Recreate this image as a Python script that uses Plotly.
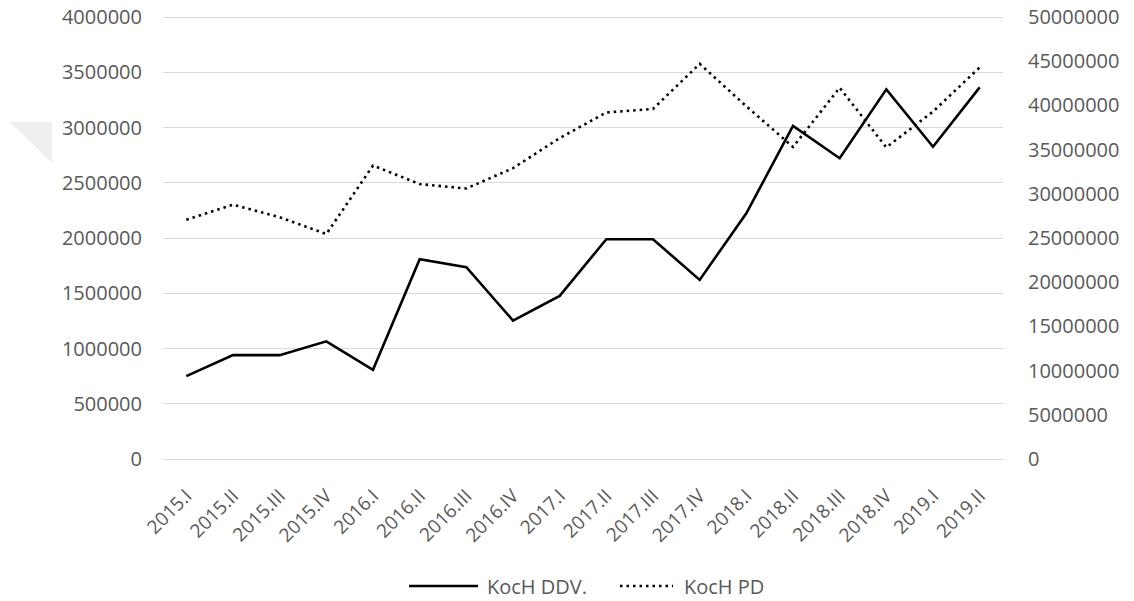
import plotly.graph_objects as go

categories = ["2015.I", "2015.II", "2015.III", "2015.IV",
              "2016.I", "2016.II", "2016.III", "2016.IV",
              "2017.I", "2017.II", "2017.III", "2017.IV",
              "2018.I", "2018.II", "2018.III", "2018.IV",
              "2019.I", "2019.II"]

koch_ddv = [750000, 940000, 940000, 1065000,
            807000, 1808000, 1736000, 1253000,
            1476000, 1989000, 1989000, 1621000,
            2224000, 3014000, 2722000, 3345000,
            2826000, 3363000]

koch_pd = [27070000, 28770000, 27350000, 25450000,
           33200000, 31100000, 30600000, 32900000,
           36300000, 39200000, 39600000, 44700000,
           39900000, 35300000, 42000000, 35250000,
           39300000, 44300000]

series_names = ["KocH DDV.", "KocH PD"]

left_ticks = list(range(0, 4000001, 500000))
right_ticks = list(range(0, 50000001, 5000000))

FONT = "Open Sans"
TXT = "#595959"
DOT = "2.5px,4px"

fig = go.Figure()
fig.add_trace(go.Scatter(x=categories, y=koch_ddv, name=series_names[0], mode="lines",
                         line=dict(color="#000000", width=2.6), yaxis="y",
                         showlegend=False))
fig.add_trace(go.Scatter(x=categories, y=koch_pd, name=series_names[1], mode="lines",
                         line=dict(color="#000000", width=2.6, dash=DOT), yaxis="y2",
                         showlegend=False))

W, H = 1134, 601
EXT = 3  # extra px above/below so the 0 and max gridlines are not clipped
ml, mr, mt, mb = 163, 131, 17 - EXT, 142 - EXT
pw, ph = W - ml - mr, H - mt - mb
inner = ph - 2 * EXT

def px2paper(x, y):
    return (x - ml) / pw, (H - mb - y) / ph

# faint watermark triangle at left
p1 = px2paper(10, 122); p2 = px2paper(52, 122); p3 = px2paper(52, 163)
fig.add_shape(type="path", xref="paper", yref="paper",
              path=f"M {p1[0]} {p1[1]} L {p2[0]} {p2[1]} L {p3[0]} {p3[1]} Z",
              fillcolor="#eeeeee", line=dict(width=0), layer="below")

# legend drawn below the plot (swatch + label)
legend_items = [
    (series_names[0], 409, 478, 485, "solid"),
    (series_names[1], 620, 673, 682, DOT),
]
ly = 586
for name, x0, x1, xt, dash in legend_items:
    a0 = px2paper(x0, ly); a1 = px2paper(x1, ly); at = px2paper(xt, ly)
    fig.add_shape(type="line", xref="paper", yref="paper",
                  x0=a0[0], x1=a1[0], y0=a0[1], y1=a1[1],
                  line=dict(color="#000000", width=2.6, dash=dash))
    fig.add_annotation(xref="paper", yref="paper", x=at[0], y=at[1],
                       text=name, showarrow=False, xanchor="left", yanchor="middle",
                       font=dict(family=FONT, size=20, color=TXT))

lmax, rmax = 4000000, 50000000
lpad = lmax * EXT / inner
rpad = rmax * EXT / inner

fig.update_layout(
    width=W, height=H,
    margin=dict(l=ml, r=mr, t=mt, b=mb, autoexpand=False),
    plot_bgcolor="white", paper_bgcolor="white",
    font=dict(family=FONT, size=20, color=TXT),
    showlegend=False,
    hovermode=False,
    xaxis=dict(type="category", range=[-0.5, len(categories) - 0.5],
               tickangle=-45, showgrid=False, showline=False, automargin=False,
               zeroline=False, ticks="", tickfont=dict(size=19, color=TXT),
               ticklabelstandoff=15 + EXT),
    yaxis=dict(range=[-lpad, lmax + lpad], tickvals=left_ticks, tickformat="d",
               showgrid=True, gridcolor="#d9d9d9", gridwidth=1.3, zeroline=False,
               showline=False, ticks="", ticklabelstandoff=20, automargin=False,
               tickfont=dict(size=20, color=TXT)),
    yaxis2=dict(range=[-rpad, rmax + rpad], tickvals=right_ticks, tickformat="d",
                overlaying="y", side="right", showgrid=False, zeroline=False,
                showline=False, ticks="", ticklabelstandoff=24, automargin=False,
                tickfont=dict(size=20, color=TXT)),
)

fig.write_html("out.html",
               config={"displayModeBar": False},
               post_script="document.body.style.margin='0';document.body.style.overflow='hidden';")
